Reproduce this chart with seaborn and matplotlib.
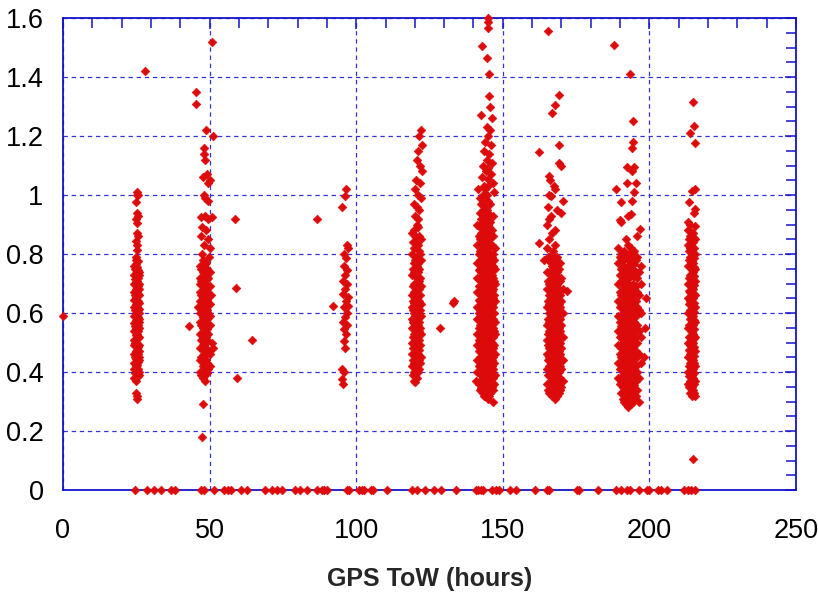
import matplotlib
matplotlib.use("Agg")
import matplotlib.pyplot as plt
import pandas as pd
import seaborn as sns
from matplotlib.ticker import MultipleLocator, FixedLocator, FixedFormatter

# ---------------- axis text ----------------
x_label = "GPS ToW (hours)"
x_ticks = [0, 50, 100, 150, 200, 250]
x_tick_labels = ["0", "50", "100", "150", "200", "250"]
y_ticks = [0, 0.2, 0.4, 0.6, 0.8, 1.0, 1.2, 1.4, 1.6]
y_tick_labels = ["0", "0.2", "0.4", "0.6", "0.8", "1", "1.2", "1.4", "1.6"]

# ---------------- data ----------------
# samples with value 0 (along the bottom axis)
zero_x = [24.6, 28.6, 31.2, 33.4, 36.8, 38.2, 47.1, 48.2, 51.6, 54.8, 56.4, 57.3,
          60.7, 62.8, 68.9, 71.2, 73.0, 74.6, 79.1, 80.9, 83.2, 86.6, 88.3, 89.1,
          90.0, 96.8, 97.6, 101.0, 101.9, 102.7, 105.0, 105.8, 110.4, 118.9, 120.6,
          123.5, 126.5, 128.8, 134.0, 140.9, 141.6, 142.6, 143.3, 146.2, 147.6, 148.7,
          152.4, 154.4, 161.0, 165.0, 165.6, 175.2, 176.1, 182.6, 188.6, 190.3, 192.2,
          193.4, 196.4, 199.1, 199.9, 203.0, 203.8, 205.9, 211.8, 213.0, 214.2, 215.5]

other_pts = [(0.0, 0.59)]

# pass A (~25 h)
A_pts = [(25.4, 1.01), (25.1, 1.00), (25.7, 1.00), (25.0, 0.975), (25.3, 0.94), (25.6, 0.93),
         (25.0, 0.92), (25.4, 0.905), (25.2, 0.87), (25.5, 0.86), (24.9, 0.845), (25.3, 0.83),
         (25.1, 0.815), (24.8, 0.79), (25.0, 0.33), (25.1, 0.32), (25.2, 0.31), (28.0, 1.42)]
A_cols = [24.3, 24.9, 25.5, 26.0, 24.6, 25.2, 25.8]
A_vals = [[0.38, 0.41, 0.43, 0.46, 0.49, 0.51, 0.54, 0.565, 0.59, 0.62, 0.645, 0.67, 0.70, 0.73, 0.76],
          [0.37, 0.395, 0.42, 0.445, 0.47, 0.50, 0.525, 0.55, 0.575, 0.60, 0.63, 0.655, 0.68, 0.705, 0.735, 0.765, 0.78],
          [0.385, 0.41, 0.435, 0.46, 0.485, 0.515, 0.54, 0.56, 0.585, 0.61, 0.64, 0.665, 0.69, 0.72, 0.745, 0.775],
          [0.40, 0.44, 0.47, 0.52, 0.55, 0.58, 0.60, 0.635, 0.66, 0.70, 0.74],
          [0.395, 0.45, 0.50, 0.555, 0.61, 0.66, 0.715, 0.75],
          [0.40, 0.425, 0.475, 0.53, 0.57, 0.62, 0.675, 0.71, 0.755],
          [0.39, 0.45, 0.49, 0.57, 0.615, 0.68, 0.73]]

# pass B (~48 h)
B_pts = [(50.8, 1.52), (45.4, 1.35), (45.5, 1.31), (48.8, 1.22), (51.0, 1.20), (48.2, 1.16),
         (48.0, 1.14), (48.3, 1.12), (47.6, 1.06), (49.0, 1.07), (50.0, 1.05), (49.3, 1.04),
         (48.0, 1.00), (48.6, 0.99), (49.5, 0.98), (47.2, 0.925), (48.4, 0.93), (49.6, 0.92),
         (50.8, 0.925), (47.5, 0.89), (48.9, 0.88), (47.0, 0.86), (49.3, 0.85), (48.0, 0.83),
         (50.0, 0.82), (47.3, 0.80), (49.8, 0.79), (46.6, 0.70), (50.6, 0.66), (46.2, 0.62),
         (50.9, 0.50), (51.2, 0.48), (47.7, 0.29), (47.5, 0.18), (43.0, 0.556), (58.8, 0.92),
         (59.0, 0.685), (59.3, 0.38), (64.5, 0.51)]
B_cols = [46.8, 47.6, 48.4, 49.2, 50.0, 47.2, 48.0, 48.8, 49.6]
B_vals = [[0.40, 0.44, 0.48, 0.53, 0.57, 0.60, 0.64, 0.67, 0.72, 0.76],
          [0.38, 0.42, 0.455, 0.49, 0.52, 0.55, 0.585, 0.62, 0.655, 0.69, 0.74, 0.78],
          [0.37, 0.41, 0.445, 0.47, 0.50, 0.535, 0.565, 0.60, 0.63, 0.665, 0.70, 0.73, 0.765],
          [0.395, 0.43, 0.465, 0.51, 0.545, 0.58, 0.61, 0.645, 0.68, 0.715, 0.75],
          [0.42, 0.46, 0.56, 0.59, 0.63, 0.69, 0.74],
          [0.39, 0.45, 0.51, 0.56, 0.61, 0.66, 0.71, 0.75],
          [0.385, 0.43, 0.46, 0.49, 0.52, 0.55, 0.58, 0.615, 0.645, 0.68, 0.72, 0.76],
          [0.40, 0.44, 0.48, 0.52, 0.555, 0.59, 0.625, 0.655, 0.69, 0.73, 0.77],
          [0.41, 0.47, 0.53, 0.60, 0.66, 0.72]]

# pass C (~96 h)
C_pts = [(96.5, 1.02), (96.1, 0.995), (95.3, 0.96), (96.9, 0.83), (97.3, 0.82), (96.0, 0.80),
         (96.6, 0.785), (95.8, 0.76), (97.0, 0.745), (96.3, 0.73), (95.6, 0.71), (96.9, 0.70),
         (96.1, 0.68), (95.4, 0.665), (97.1, 0.655), (96.4, 0.64), (95.9, 0.62), (97.3, 0.625),
         (96.7, 0.60), (96.2, 0.585), (95.5, 0.57), (97.0, 0.56), (96.0, 0.545), (96.6, 0.53),
         (95.7, 0.505), (96.3, 0.48), (95.3, 0.41), (95.8, 0.40), (95.0, 0.375), (95.5, 0.36),
         (92.0, 0.625), (86.6, 0.92)]

# pass D (~120 h)
D_pts = [(122.0, 1.22), (121.3, 1.20), (122.5, 1.17), (121.0, 1.15), (120.8, 1.12), (121.6, 1.10),
         (122.3, 1.08), (120.5, 1.05), (121.8, 1.04), (120.0, 1.02), (121.0, 1.00), (122.0, 0.99),
         (119.8, 0.97), (120.7, 0.96), (121.5, 0.95), (120.2, 0.93), (121.2, 0.92), (128.6, 0.55),
         (133.0, 0.635)]
D_cols = [119.0, 119.8, 120.6, 121.4, 122.1, 119.4, 120.2, 121.0, 121.75]
D_vals = [[0.42, 0.46, 0.50, 0.55, 0.58, 0.62, 0.66, 0.73, 0.80, 0.87],
          [0.37, 0.40, 0.43, 0.465, 0.50, 0.53, 0.565, 0.60, 0.635, 0.67, 0.70, 0.74, 0.77, 0.82, 0.88],
          [0.38, 0.415, 0.45, 0.48, 0.515, 0.545, 0.58, 0.615, 0.65, 0.685, 0.72, 0.76, 0.79, 0.84, 0.90],
          [0.41, 0.44, 0.475, 0.51, 0.54, 0.57, 0.60, 0.64, 0.68, 0.71, 0.75, 0.81, 0.86],
          [0.45, 0.53, 0.59, 0.63, 0.69, 0.78, 0.85],
          [0.39, 0.44, 0.48, 0.52, 0.57, 0.61, 0.64, 0.69, 0.75, 0.84],
          [0.365, 0.395, 0.43, 0.46, 0.49, 0.525, 0.555, 0.59, 0.625, 0.66, 0.695, 0.73, 0.78, 0.86],
          [0.40, 0.43, 0.46, 0.495, 0.53, 0.56, 0.59, 0.625, 0.66, 0.70, 0.74, 0.77, 0.83, 0.89],
          [0.43, 0.49, 0.55, 0.61, 0.66, 0.72, 0.80]]

# pass E (~145 h)
E_pts = [(145.0, 1.60), (145.0, 1.585), (145.1, 1.566), (143.0, 1.505), (144.7, 1.465), (145.3, 1.41),
         (145.2, 1.336), (145.5, 1.30), (142.6, 1.27), (146.2, 1.26), (144.5, 1.23), (145.8, 1.22),
         (145.0, 1.20), (144.0, 1.18), (146.0, 1.17), (143.5, 1.15), (145.4, 1.14), (144.6, 1.12),
         (146.3, 1.11), (143.2, 1.10), (145.0, 1.09), (144.2, 1.08), (145.9, 1.07), (142.8, 1.06),
         (144.8, 1.055), (146.6, 1.04), (143.6, 1.03), (141.6, 1.02), (147.0, 1.01), (133.2, 0.64),
         (141.0, 0.37), (146.8, 0.30)]
E_cols = [141.3, 142.2, 143.1, 144.0, 144.9, 145.8, 146.7, 147.5,
          141.75, 142.65, 143.55, 144.45, 145.35, 146.25, 147.1]
E_vals = [[0.40, 0.44, 0.49, 0.53, 0.58, 0.62, 0.67, 0.72, 0.77, 0.83, 0.90],
          [0.34, 0.37, 0.40, 0.425, 0.45, 0.48, 0.505, 0.53, 0.56, 0.585, 0.61, 0.64, 0.665, 0.69,
           0.72, 0.75, 0.78, 0.81, 0.85, 0.89, 0.94, 0.99],
          [0.33, 0.355, 0.38, 0.41, 0.435, 0.46, 0.49, 0.515, 0.54, 0.57, 0.595, 0.62, 0.65, 0.675,
           0.70, 0.73, 0.755, 0.785, 0.81, 0.84, 0.87, 0.91, 0.95, 1.00],
          [0.32, 0.345, 0.37, 0.395, 0.42, 0.445, 0.47, 0.50, 0.525, 0.55, 0.575, 0.60, 0.63, 0.655,
           0.68, 0.71, 0.735, 0.76, 0.79, 0.82, 0.85, 0.88, 0.92, 0.96, 1.02],
          [0.31, 0.335, 0.36, 0.385, 0.41, 0.44, 0.465, 0.49, 0.515, 0.54, 0.565, 0.59, 0.62, 0.645,
           0.67, 0.695, 0.72, 0.75, 0.775, 0.80, 0.83, 0.865, 0.90, 0.94, 0.98, 1.03],
          [0.33, 0.35, 0.375, 0.40, 0.43, 0.455, 0.48, 0.51, 0.535, 0.56, 0.585, 0.61, 0.635, 0.66,
           0.69, 0.715, 0.74, 0.77, 0.80, 0.835, 0.87, 0.91, 0.97],
          [0.34, 0.38, 0.41, 0.45, 0.48, 0.52, 0.55, 0.58, 0.62, 0.65, 0.68, 0.72, 0.76, 0.80, 0.86, 0.93],
          [0.39, 0.46, 0.53, 0.57, 0.64, 0.70, 0.75, 0.82],
          [0.36, 0.42, 0.47, 0.51, 0.55, 0.60, 0.645, 0.69, 0.745, 0.80, 0.86],
          [0.345, 0.39, 0.44, 0.47, 0.52, 0.55, 0.60, 0.63, 0.68, 0.71, 0.74, 0.77, 0.80, 0.83, 0.87, 0.92, 0.97],
          [0.32, 0.36, 0.40, 0.45, 0.48, 0.53, 0.555, 0.58, 0.61, 0.64, 0.66, 0.69, 0.72, 0.745, 0.77,
           0.80, 0.83, 0.86, 0.90, 0.94, 0.985],
          [0.33, 0.38, 0.41, 0.43, 0.46, 0.485, 0.51, 0.54, 0.56, 0.59, 0.615, 0.64, 0.67, 0.70, 0.72,
           0.75, 0.78, 0.81, 0.84, 0.87, 0.91, 0.95, 1.00],
          [0.32, 0.35, 0.39, 0.42, 0.45, 0.475, 0.50, 0.53, 0.555, 0.58, 0.605, 0.63, 0.66, 0.68, 0.71,
           0.74, 0.76, 0.79, 0.82, 0.85, 0.89, 0.93],
          [0.35, 0.39, 0.42, 0.44, 0.47, 0.50, 0.525, 0.55, 0.575, 0.60, 0.63, 0.65, 0.675, 0.70, 0.73,
           0.76, 0.79, 0.83, 0.88],
          [0.36, 0.43, 0.49, 0.54, 0.60, 0.66, 0.71, 0.78]]

# pass F (~167 h)
F_pts = [(165.4, 1.556), (162.4, 1.145), (169.3, 1.34), (167.8, 1.305), (166.8, 1.278), (169.0, 1.17),
         (169.0, 1.11), (169.8, 1.10), (165.8, 1.065), (166.2, 1.05), (167.5, 1.03), (167.7, 1.02),
         (165.8, 1.00), (166.5, 0.995), (170.5, 0.98), (165.5, 0.96), (168.6, 0.95), (166.6, 0.93),
         (170.0, 0.94), (162.3, 0.837), (164.0, 0.78), (172.0, 0.675)]
F_cols = [165.0, 165.9, 166.8, 167.7, 168.6, 169.5, 170.4,
          165.45, 166.35, 167.25, 168.15, 169.05, 169.95]
F_vals = [[0.36, 0.41, 0.46, 0.51, 0.56, 0.62, 0.68, 0.74, 0.82, 0.90],
          [0.33, 0.36, 0.39, 0.42, 0.45, 0.48, 0.51, 0.54, 0.57, 0.60, 0.63, 0.66, 0.70, 0.74, 0.78, 0.85, 0.92],
          [0.32, 0.345, 0.37, 0.40, 0.425, 0.45, 0.48, 0.505, 0.53, 0.56, 0.585, 0.61, 0.64, 0.665,
           0.69, 0.72, 0.76, 0.80, 0.87],
          [0.31, 0.335, 0.36, 0.385, 0.41, 0.44, 0.465, 0.49, 0.52, 0.545, 0.57, 0.60, 0.625, 0.65,
           0.68, 0.71, 0.745, 0.78, 0.83, 0.88],
          [0.32, 0.35, 0.375, 0.40, 0.43, 0.455, 0.48, 0.51, 0.535, 0.56, 0.59, 0.615, 0.64, 0.67, 0.70, 0.74, 0.79],
          [0.34, 0.38, 0.42, 0.46, 0.50, 0.54, 0.58, 0.62, 0.66, 0.71, 0.77],
          [0.37, 0.44, 0.52, 0.60, 0.68],
          [0.34, 0.39, 0.44, 0.49, 0.53, 0.58, 0.64, 0.71, 0.79],
          [0.33, 0.37, 0.41, 0.44, 0.47, 0.50, 0.52, 0.55, 0.58, 0.62, 0.65, 0.68, 0.73, 0.77],
          [0.32, 0.35, 0.38, 0.42, 0.455, 0.475, 0.50, 0.53, 0.555, 0.59, 0.62, 0.645, 0.67, 0.70, 0.735, 0.77, 0.81],
          [0.33, 0.37, 0.395, 0.42, 0.45, 0.47, 0.50, 0.525, 0.55, 0.58, 0.605, 0.635, 0.66, 0.69, 0.72, 0.76],
          [0.33, 0.36, 0.40, 0.44, 0.47, 0.52, 0.55, 0.60, 0.63, 0.68, 0.72, 0.75],
          [0.35, 0.41, 0.48, 0.56, 0.64, 0.72]]

# pass G (~193 h)
G_pts = [(188.0, 1.51), (193.4, 1.41), (194.3, 1.25), (194.3, 1.18), (194.0, 1.16), (192.5, 1.095),
         (194.8, 1.095), (194.0, 1.08), (192.2, 1.04), (195.5, 1.04), (194.6, 1.01), (188.6, 1.02),
         (190.3, 0.975), (193.9, 0.98), (192.8, 0.93), (193.6, 0.935), (190.1, 0.915), (190.3, 0.91),
         (196.8, 0.885), (192.0, 0.85), (195.8, 0.86), (199.0, 0.65), (198.5, 0.55), (198.0, 0.45),
         (196.5, 0.30)]
G_cols = [189.3, 190.4, 191.5, 192.6, 193.7, 194.8, 195.9, 197.0,
          189.85, 190.95, 192.05, 193.15, 194.25, 195.35, 196.45]
G_vals = [[0.38, 0.43, 0.49, 0.54, 0.59, 0.64, 0.70, 0.77, 0.82],
          [0.33, 0.37, 0.41, 0.45, 0.48, 0.52, 0.555, 0.59, 0.62, 0.66, 0.71, 0.75, 0.80],
          [0.30, 0.34, 0.375, 0.41, 0.44, 0.475, 0.51, 0.54, 0.575, 0.61, 0.64, 0.68, 0.72, 0.76, 0.81],
          [0.28, 0.32, 0.35, 0.385, 0.42, 0.455, 0.49, 0.525, 0.56, 0.595, 0.63, 0.665, 0.70, 0.74, 0.78, 0.83],
          [0.29, 0.33, 0.365, 0.40, 0.435, 0.47, 0.505, 0.54, 0.58, 0.615, 0.65, 0.69, 0.73, 0.77, 0.82],
          [0.31, 0.355, 0.39, 0.43, 0.465, 0.50, 0.54, 0.57, 0.61, 0.645, 0.68, 0.725, 0.765, 0.81],
          [0.34, 0.40, 0.45, 0.50, 0.56, 0.62, 0.67, 0.72, 0.79],
          [0.43, 0.52, 0.60, 0.70, 0.76],
          [0.36, 0.41, 0.46, 0.52, 0.57, 0.62, 0.67, 0.73, 0.79],
          [0.31, 0.35, 0.39, 0.43, 0.46, 0.50, 0.535, 0.57, 0.60, 0.64, 0.685, 0.73, 0.78],
          [0.29, 0.33, 0.36, 0.395, 0.43, 0.46, 0.50, 0.53, 0.56, 0.59, 0.625, 0.66, 0.70, 0.745, 0.79],
          [0.30, 0.34, 0.375, 0.41, 0.445, 0.48, 0.515, 0.55, 0.585, 0.62, 0.655, 0.68, 0.72, 0.76, 0.80],
          [0.30, 0.34, 0.38, 0.415, 0.45, 0.485, 0.52, 0.555, 0.59, 0.63, 0.665, 0.70, 0.745, 0.79],
          [0.32, 0.37, 0.42, 0.47, 0.52, 0.55, 0.59, 0.64, 0.69, 0.74, 0.78],
          [0.38, 0.46, 0.54, 0.61, 0.66, 0.74]]

# pass H (~214 h)
H_pts = [(215.0, 1.315), (215.3, 1.234), (214.0, 1.21), (215.6, 1.176), (215.4, 1.02), (214.4, 1.015),
         (213.6, 0.976), (215.5, 0.953), (215.1, 0.94), (213.0, 0.908), (213.8, 0.90), (215.4, 0.895),
         (215.0, 0.105)]
H_cols = [213.2, 214.0, 214.8, 215.6, 213.6, 214.4, 215.2]
H_vals = [[0.36, 0.40, 0.45, 0.50, 0.55, 0.60, 0.65, 0.70, 0.76, 0.83, 0.88],
          [0.33, 0.37, 0.40, 0.43, 0.46, 0.49, 0.52, 0.55, 0.58, 0.61, 0.64, 0.67, 0.70, 0.73, 0.76, 0.79, 0.82, 0.86],
          [0.34, 0.38, 0.41, 0.44, 0.47, 0.50, 0.53, 0.56, 0.59, 0.62, 0.65, 0.68, 0.71, 0.74, 0.77, 0.80, 0.84, 0.87],
          [0.32, 0.37, 0.42, 0.47, 0.52, 0.57, 0.62, 0.66, 0.71, 0.75, 0.80, 0.85],
          [0.35, 0.385, 0.42, 0.475, 0.52, 0.56, 0.63, 0.675, 0.72, 0.78, 0.81, 0.85],
          [0.32, 0.35, 0.39, 0.415, 0.445, 0.475, 0.505, 0.535, 0.565, 0.595, 0.625, 0.655, 0.685,
           0.715, 0.745, 0.775, 0.805, 0.84, 0.87],
          [0.33, 0.36, 0.395, 0.43, 0.455, 0.485, 0.515, 0.545, 0.575, 0.605, 0.635, 0.665, 0.695,
           0.725, 0.755, 0.785, 0.82, 0.855]]

# ---------------- assemble table ----------------
xs, ys = [], []
for pts in [other_pts, A_pts, B_pts, C_pts, D_pts, E_pts, F_pts, G_pts, H_pts]:
    for px, py in pts:
        xs.append(px)
        ys.append(py)
for cols, vals in [(A_cols, A_vals), (B_cols, B_vals), (D_cols, D_vals), (E_cols, E_vals),
                   (F_cols, F_vals), (G_cols, G_vals), (H_cols, H_vals)]:
    for cx, col in zip(cols, vals):
        for vy in col:
            xs.append(cx)
            ys.append(vy)
for zx in zero_x:
    xs.append(zx)
    ys.append(0.0)
df = pd.DataFrame({"tow": xs, "value": ys})

# ---------------- plot ----------------
sns.set_style("white")
plt.rcParams["font.family"] = ["Liberation Sans", "DejaVu Sans"]

blue = "#1414c8"
grid_blue = "#3434d4"
red = "#dc0a0a"

fig = plt.figure(figsize=(8.19, 5.94), dpi=100)
ax = fig.add_axes([63 / 819, 1 - 490 / 594, (796 - 63) / 819, (490 - 18) / 594])

sns.scatterplot(data=df, x="tow", y="value", ax=ax, marker="D", s=20, color=red,
                edgecolor=red, linewidth=0.4, clip_on=False, zorder=3, legend=False)

ax.set_xlim(0, 250)
ax.set_ylim(0, 1.6)
ax.xaxis.set_major_locator(FixedLocator(x_ticks))
ax.xaxis.set_major_formatter(FixedFormatter(x_tick_labels))
ax.yaxis.set_major_locator(FixedLocator(y_ticks))
ax.yaxis.set_major_formatter(FixedFormatter(y_tick_labels))
ax.xaxis.set_minor_locator(MultipleLocator(10))
ax.yaxis.set_minor_locator(MultipleLocator(0.05))

ax.set_axisbelow(True)
ax.grid(True, which="major", color=grid_blue, linestyle=(0, (3.5, 3)), linewidth=0.9)

for sp in ax.spines.values():
    sp.set_color(blue)
    sp.set_linewidth(1.3)

ax.tick_params(which="both", direction="in", top=True, right=True, color=blue, width=1.1,
               labelcolor="black", labelsize=19.5)
ax.tick_params(which="major", length=8)
ax.tick_params(which="minor", length=7)
ax.tick_params(axis="x", which="major", pad=20)
ax.tick_params(axis="y", which="major", pad=14)

ax.set_xlabel(x_label, fontsize=18, fontweight="bold", labelpad=17)
ax.set_ylabel("")

fig.savefig("out.png", dpi=100)
